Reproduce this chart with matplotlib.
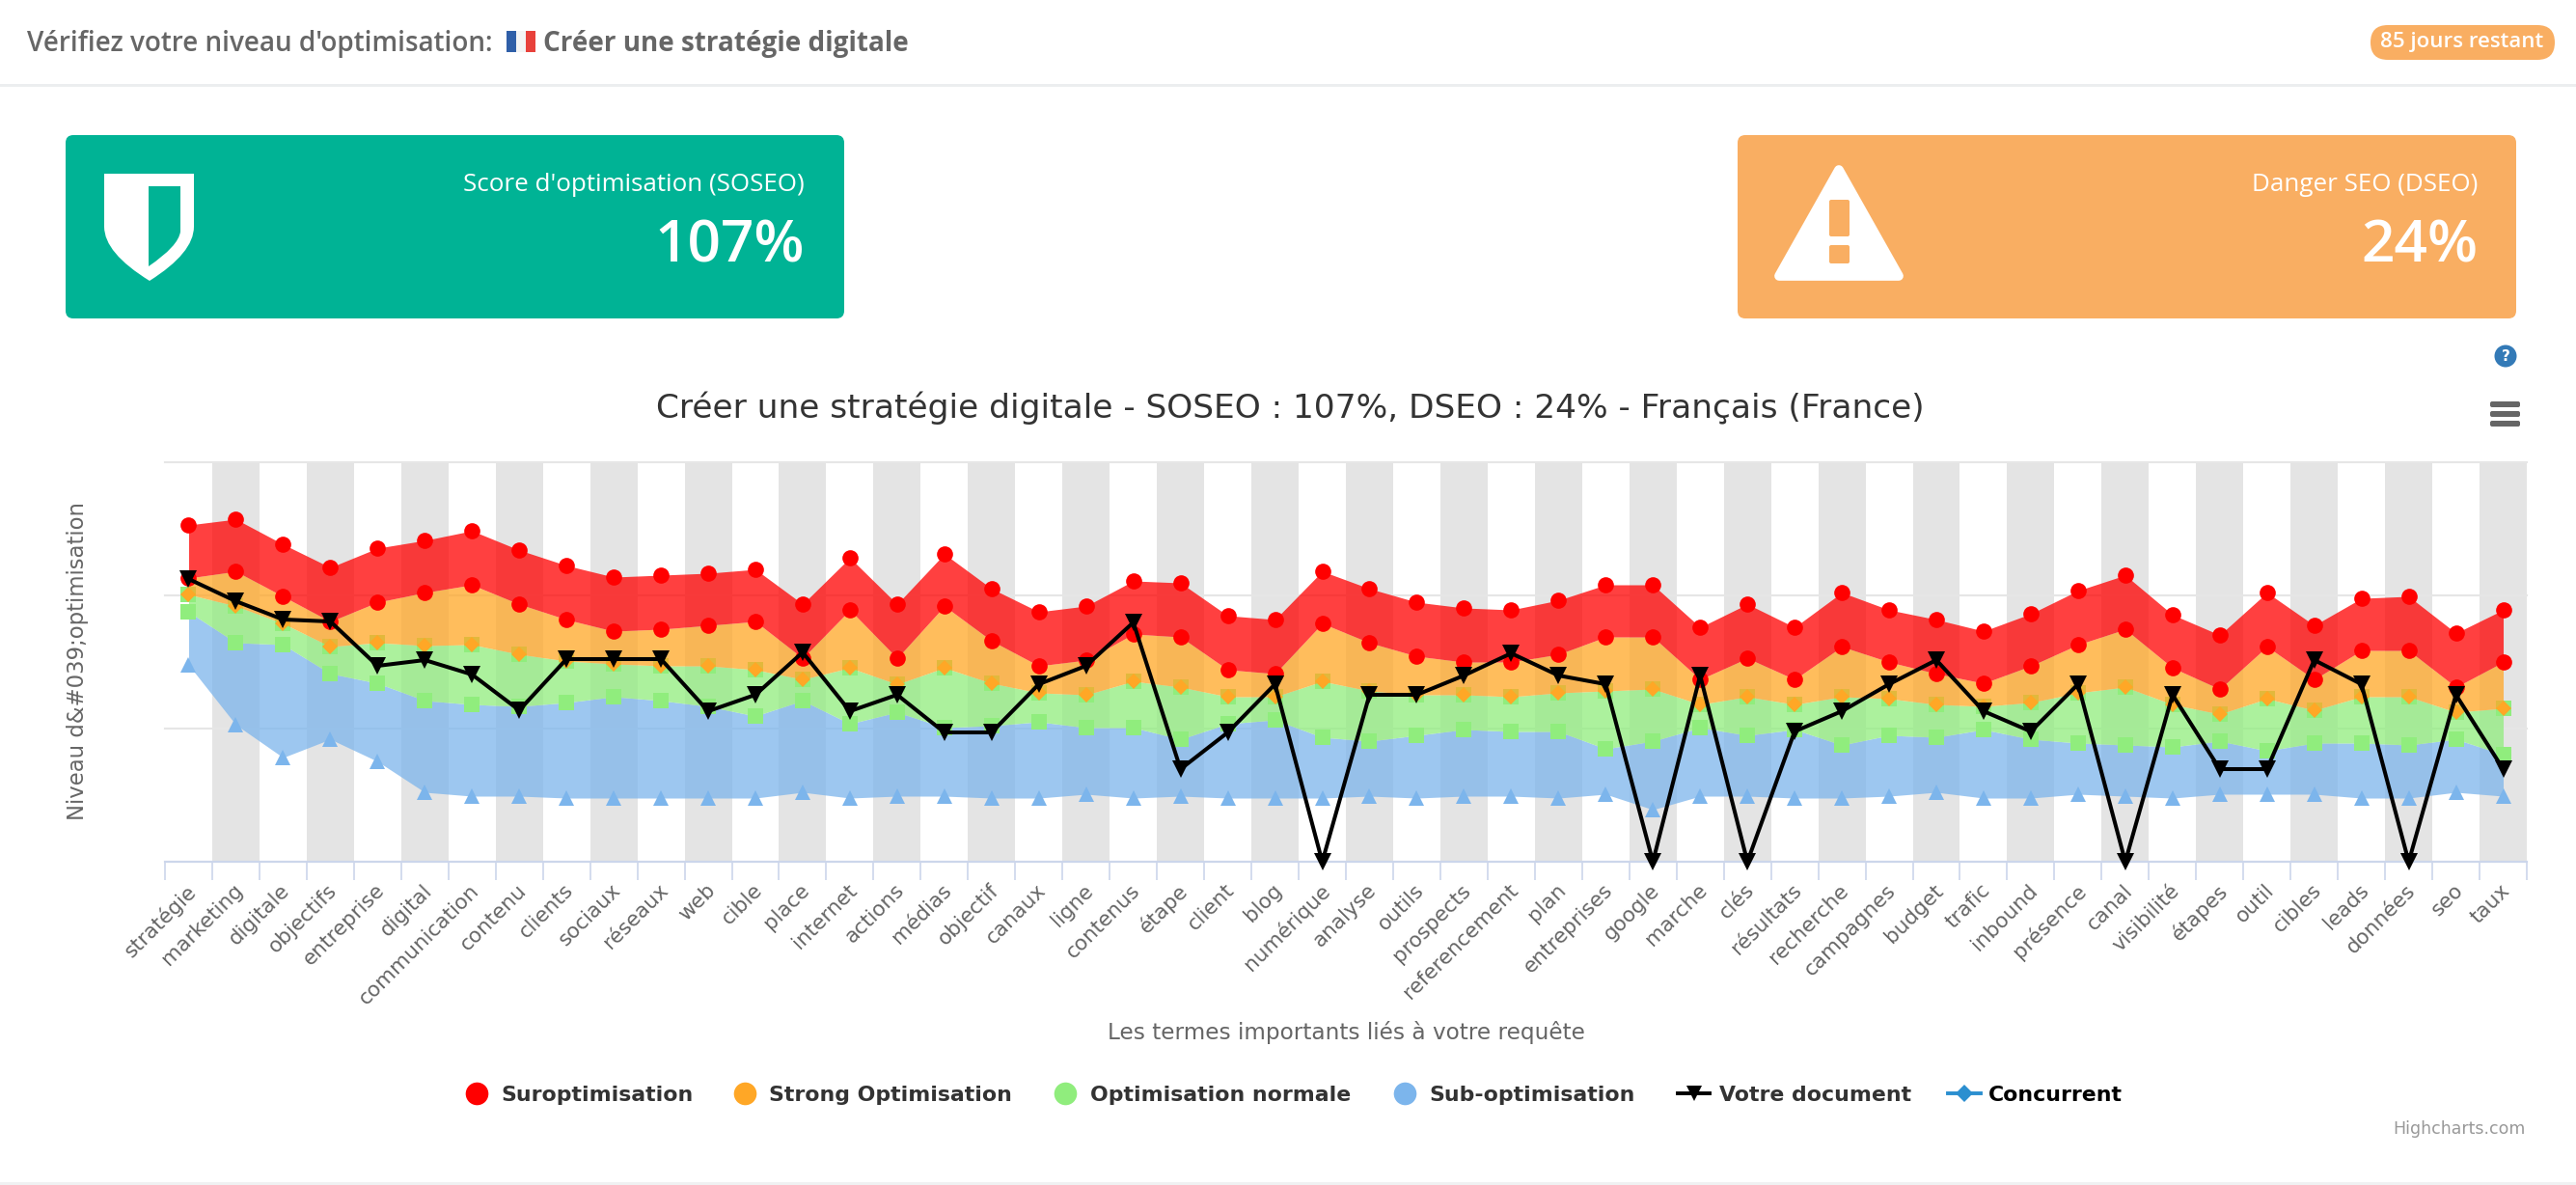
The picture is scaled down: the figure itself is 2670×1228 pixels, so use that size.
import matplotlib
matplotlib.use("Agg")
import matplotlib.pyplot as plt
from matplotlib.patches import FancyBboxPatch, PathPatch, Rectangle, Ellipse
from matplotlib.path import Path
from matplotlib.lines import Line2D
from matplotlib.transforms import ScaledTranslation

W, H = 2670, 1228

terms = [
    "stratégie", "marketing", "digitale", "objectifs", "entreprise", "digital", "communication", "contenu",
    "clients", "sociaux", "réseaux", "web", "cible", "place", "internet", "actions", "médias", "objectif",
    "canaux", "ligne", "contenus", "étape", "client", "blog", "numérique", "analyse", "outils", "prospects",
    "referencement", "plan", "entreprises", "google", "marche", "clés", "résultats", "recherche", "campagnes",
    "budget", "trafic", "inbound", "présence", "canal", "visibilité", "étapes", "outil", "cibles", "leads",
    "données", "seo", "taux",
]

# bornes des zones, du haut vers le bas
sur_high = [349, 355, 329, 305, 325, 333, 343, 323, 307, 295, 297, 299, 303, 267, 315, 267,
            319, 283, 259, 265, 291, 289, 255, 251, 301, 283, 269, 263, 261, 271, 287,
            287, 243, 267, 243, 279, 261, 251, 239, 257, 281, 297, 256, 235, 279, 245, 273, 275, 237, 261]
strong_high = [294, 301, 275, 249, 269, 279, 287, 267, 251, 239, 241, 245, 249, 211, 261, 211,
               265, 229, 203, 209, 236, 233, 199, 195, 247, 227, 213, 207, 207, 215, 233,
               233, 189, 211, 189, 223, 207, 195, 185, 203, 225, 241, 201, 179, 223, 189, 219, 219, 181, 207]
normal_high = [277, 265, 247, 223, 227, 224, 225, 215, 208, 205, 203, 203, 199, 189, 201, 184,
               201, 185, 175, 173, 187, 181, 171, 171, 187, 177, 173, 173, 171, 175, 177,
               179, 163, 171, 163, 171, 169, 163, 161, 165, 175, 181, 163, 153, 169, 157, 171, 171, 155, 159]
sub_high = [259, 227, 225, 195, 185, 167, 163, 161, 165, 171, 167, 161, 151, 167, 143, 155,
            139, 141, 145, 139, 139, 127, 143, 147, 129, 125, 131, 137, 135, 135, 117,
            125, 139, 131, 137, 121, 131, 129, 137, 127, 123, 121, 119, 125, 115, 123, 123, 121, 127, 111]
sub_low = [204, 142, 108, 127, 104, 72, 68, 68, 66, 66, 66, 66, 66, 72, 66, 68,
           68, 66, 66, 70, 66, 68, 66, 66, 66, 68, 66, 68, 68, 66, 70,
           54, 68, 68, 66, 66, 68, 72, 66, 66, 70, 68, 66, 70, 70, 70, 66, 66, 72, 68]
document = [293, 270, 251, 249, 203, 209, 194, 157, 210, 210, 210, 156, 173, 217, 156, 173,
            134, 134, 184, 203, 248, 96, 134, 184, 0, 173, 173, 193, 216, 193, 184,
            0, 193, 0, 135, 156, 184, 209, 156, 135, 184, 0, 173, 96, 96, 209, 184, 0, 173, 96]

grid_values = [138, 276, 414]

legend_names = ["Suroptimisation", "Strong Optimisation", "Optimisation normale", "Sub-optimisation"]
legend_colors = ["#ff0000", "#ffa726", "#90ed7d", "#7cb5ec"]

GREEN_CARD = "#00b395"
ORANGE_CARD = "#f9ae62"
OPEN = ["Open Sans", "DejaVu Sans"]


def card(bg, x0, y0, x1, y1, color, radius=8):
    bg.add_patch(FancyBboxPatch((x0 + radius, y0 + radius), x1 - x0 - 2 * radius, y1 - y0 - 2 * radius,
                                boxstyle=f"round,pad={radius},rounding_size={radius}", fc=color, ec="none"))


def shield(bg):
    outer = Path([(108, 180), (201, 180), (201, 235), (201, 262), (155, 291), (108, 262), (108, 235), (108, 180)],
                 [Path.MOVETO, Path.LINETO, Path.LINETO, Path.CURVE3, Path.CURVE3, Path.CURVE3, Path.CURVE3, Path.CLOSEPOLY])
    bg.add_patch(PathPatch(outer, fc="white", ec="none"))
    slot = Path([(154, 193), (187, 193), (187, 240), (185, 255), (154, 276), (154, 193)],
                [Path.MOVETO, Path.LINETO, Path.LINETO, Path.CURVE3, Path.CURVE3, Path.CLOSEPOLY])
    bg.add_patch(PathPatch(slot, fc=GREEN_CARD, ec="none"))


def warning(bg):
    tri = Path([(1906, 176), (1968, 286), (1844, 286), (1906, 176)], closed=True)
    bg.add_patch(PathPatch(tri, fc="white", ec="white", lw=7, joinstyle="round"))
    bg.add_patch(FancyBboxPatch((1898, 209), 17, 34, boxstyle="round,pad=2,rounding_size=2", fc=ORANGE_CARD, ec="none"))
    bg.add_patch(FancyBboxPatch((1898, 256), 17, 15, boxstyle="round,pad=2,rounding_size=2", fc=ORANGE_CARD, ec="none"))


def header(bg):
    bg.text(28, 45, "Vérifiez votre niveau d'optimisation:", family=OPEN, weight="semibold",
            fontsize=20.1, color="#666666", va="center")
    bg.add_patch(Rectangle((525, 32), 10, 22, fc="#2f5fa8", ec="none"))
    bg.add_patch(Rectangle((535, 32), 10, 22, fc="#f4f4f4", ec="none"))
    bg.add_patch(Rectangle((545, 32), 10, 22, fc="#e8413b", ec="none"))
    bg.text(563, 45, "Créer une stratégie digitale", family=OPEN, weight="bold",
            fontsize=20.1, color="#666666", va="center")
    bg.add_patch(Rectangle((0, 87), W, 3, fc="#eceeef", ec="none"))
    card(bg, 2457, 26, 2648, 62, ORANGE_CARD, radius=18)
    bg.text(2552, 44, "85 jours restant", family=OPEN, weight="semibold", fontsize=16,
            color="white", ha="center", va="center")


def kpis(bg):
    card(bg, 68, 140, 875, 330, GREEN_CARD)
    shield(bg)
    bg.text(834, 191, "Score d'optimisation (SOSEO)", family=OPEN, fontsize=18.7, color="white", ha="right", va="center")
    bg.text(834, 256, "107%", family=OPEN, weight="semibold", fontsize=43.5, color="white", ha="right", va="center")
    card(bg, 1801, 140, 2608, 330, ORANGE_CARD)
    warning(bg)
    bg.text(2568, 191, "Danger SEO (DSEO)", family=OPEN, fontsize=18.7, color="white", ha="right", va="center")
    bg.text(2568, 256, "24%", family=OPEN, weight="semibold", fontsize=43.5, color="white", ha="right", va="center")


def chrome(bg):
    bg.add_patch(Ellipse((2597, 369), 23, 23, fc="#337ab7", ec="none"))
    bg.text(2597, 369, "?", color="white", weight="bold", fontsize=11, ha="center", va="center")
    for y in (419, 429, 439):
        bg.add_patch(FancyBboxPatch((2583, y - 1), 27, 2, boxstyle="round,pad=2,rounding_size=2", fc="#666666", ec="none"))
    bg.text(1337, 423, "Créer une stratégie digitale - SOSEO : 107%, DSEO : 24% - Français (France)",
            fontsize=24.75, color="#333333", ha="center", va="center")
    bg.text(81, 685, "Niveau d&#039;optimisation", rotation=90, fontsize=16.4, color="#666666", ha="center", va="center")
    bg.text(1395, 1070, "Les termes importants liés à votre requête", fontsize=16.7, color="#666666", ha="center", va="center")
    bg.text(2618, 1170, "Highcharts.com", fontsize=12.5, color="#999999", ha="right", va="center")
    bg.add_patch(Rectangle((0, 1225), W, 3, fc="#f0f1f2", ec="none"))


def legend(bg):
    for name, color, xm, xt in zip(legend_names, legend_colors, [494, 772, 1104, 1456], [519, 797, 1130, 1481]):
        bg.plot([xm], [1133], "o", color=color, ms=17, mew=0)
        bg.text(xt, 1135, name, weight="bold", fontsize=15.8, color="#333333", va="center")
    bg.add_line(Line2D([1739, 1772], [1133, 1133], color="black", lw=2.8))
    bg.plot([1756], [1133], "v", color="black", ms=12, mew=0)
    bg.text(1782, 1135, "Votre document", weight="bold", fontsize=15.8, color="#333333", va="center")
    bg.add_line(Line2D([2019, 2053], [1133, 1133], color="#2b8fd0", lw=2.8))
    bg.plot([2036], [1133], "D", color="#2b8fd0", ms=9, mew=0)
    bg.text(2061, 1135, "Concurrent", weight="bold", fontsize=15.8, color="black", va="center")


def chart(fig, ax):
    x = list(range(len(terms)))
    for i in x[1::2]:
        ax.axvspan(i - 0.5, i + 0.5, fc="#e4e4e4", ec="none", zorder=0)
    for v in grid_values:
        ax.axhline(v, color="#e6e6e6", lw=1.5, zorder=0.5, clip_on=False)

    layers = [
        (sub_high, sub_low, "#7cb5ec", "^", 12),
        (normal_high, sub_high, "#90ed7d", "s", 11.5),
        (strong_high, normal_high, "#ffa726", "D", 8.2),
        (sur_high, strong_high, "#ff0000", "o", 12),
    ]
    z = 1
    for high, low, color, marker, size in layers:
        ax.fill_between(x, low, high, color=color, alpha=0.75, linewidth=0, zorder=z)
        ax.plot(x, high, ls="", marker=marker, color=color, ms=size, mew=0, zorder=z + 0.1, clip_on=False)
        ax.plot(x, low, ls="", marker=marker, color=color, ms=size, mew=0, zorder=z + 0.1, clip_on=False)
        z += 1
    ax.plot(x, document, color="black", lw=2.9, marker="v", ms=12.5, mew=0, zorder=z, clip_on=False)

    ax.set_xlim(-0.5, len(terms) - 0.5)
    ax.set_ylim(0, 414)
    ax.set_yticks([])
    ax.set_xticks(x)
    ax.set_xticklabels(terms, rotation=45, ha="right", rotation_mode="anchor", fontsize=15.5, color="#666666")
    ax.tick_params(axis="x", which="major", length=0, pad=14)
    shift = ScaledTranslation(-3 / 100, 0, fig.dpi_scale_trans)
    for label in ax.get_xticklabels():
        label.set_transform(label.get_transform() + shift)
    ax.set_xticks([i - 0.5 for i in x] + [len(terms) - 0.5], minor=True)
    ax.tick_params(axis="x", which="minor", length=13.5, width=1.2, color="#ccd6eb")
    for side in ("top", "left", "right"):
        ax.spines[side].set_visible(False)
    ax.spines["bottom"].set_color("#ccd6eb")
    ax.spines["bottom"].set_linewidth(1.6)
    ax.patch.set_alpha(0)


def main():
    fig = plt.figure(figsize=(W / 100, H / 100), dpi=100, facecolor="white")
    bg = fig.add_axes([0, 0, 1, 1])
    bg.set_xlim(0, W)
    bg.set_ylim(H, 0)
    bg.axis("off")
    header(bg)
    kpis(bg)
    chrome(bg)
    legend(bg)

    ax = fig.add_axes([171 / W, (H - 893) / H, 2448 / W, 414 / H])
    chart(fig, ax)
    fig.savefig("out.png", dpi=100)


if __name__ == "__main__":
    main()
